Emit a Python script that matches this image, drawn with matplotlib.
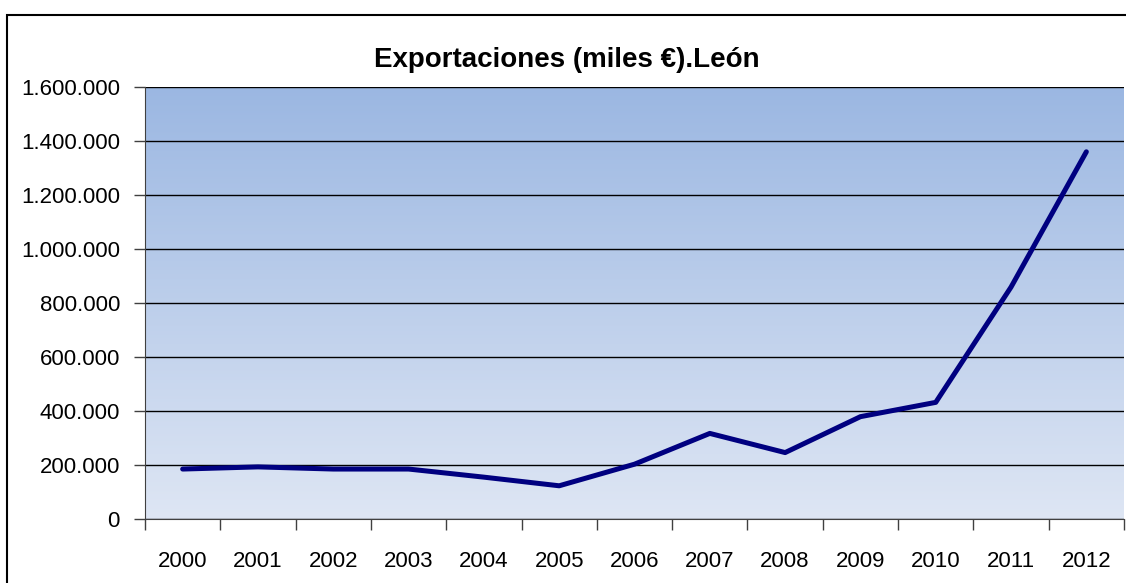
import numpy as np
import matplotlib.pyplot as plt
from matplotlib.patches import Rectangle
from matplotlib.ticker import FuncFormatter

years = ['2000', '2001', '2002', '2003', '2004', '2005', '2006',
         '2007', '2008', '2009', '2010', '2011', '2012']
exports = [185000, 193000, 185000, 185000, 155000, 123000, 203000,
           317000, 246000, 379000, 432000, 859000, 1360000]

plt.rcParams['font.family'] = ['Liberation Sans', 'DejaVu Sans']

W, H = 1126, 583
fig = plt.figure(figsize=(W / 100, H / 100), dpi=100)
ax = fig.add_axes([145 / W, 1 - 519 / H, (1124 - 145) / W, (519 - 87) / H])

n = len(years)
x = np.arange(n) + 0.5
ax.set_xlim(0, n)
ax.set_ylim(0, 1600000)

# gradient background
grad = np.linspace(0, 1, 256).reshape(-1, 1)
top = np.array([155, 183, 226]) / 255
bot = np.array([222, 230, 244]) / 255
img = bot + (top - bot) * grad
ax.imshow(img.reshape(256, 1, 3), aspect='auto', origin='lower',
          extent=[0, n, 0, 1600000], zorder=0)

ax.set_yticks(np.arange(0, 1600001, 200000))
ax.yaxis.set_major_formatter(FuncFormatter(lambda v, p: f'{int(v):,}'.replace(',', '.')))
ax.grid(axis='y', color='black', lw=1, zorder=1)
ax.set_xticks(np.arange(n + 1))
ax.set_xticklabels([])
ax.set_xticks(x, minor=True)
ax.set_xticklabels(years, minor=True)
ax.tick_params(axis='x', which='major', length=8, width=1, color='#404040', direction='out')
ax.tick_params(axis='x', which='minor', length=0, pad=23, labelsize=16)
ax.tick_params(axis='y', length=8, width=1, color='#404040', labelsize=16, pad=10)

for s in ['top', 'right']:
    ax.spines[s].set_visible(False)
ax.spines['left'].set_color('#404040')
ax.spines['bottom'].set_color('#404040')

ax.plot(x, exports, color='#000080', lw=3.6, solid_capstyle='round',
        solid_joinstyle='round', zorder=3)

fig.text(567 / W, 1 - 60 / H, 'Exportaciones (miles €).León', ha='center', va='center',
         fontsize=20, fontweight='bold')

fig.patches.append(Rectangle((7 / W, -0.1), 1.2, 1 - 15 / H + 0.1, transform=fig.transFigure,
                             fill=False, edgecolor='black', lw=1.5))

fig.savefig('out.png', dpi=100)
